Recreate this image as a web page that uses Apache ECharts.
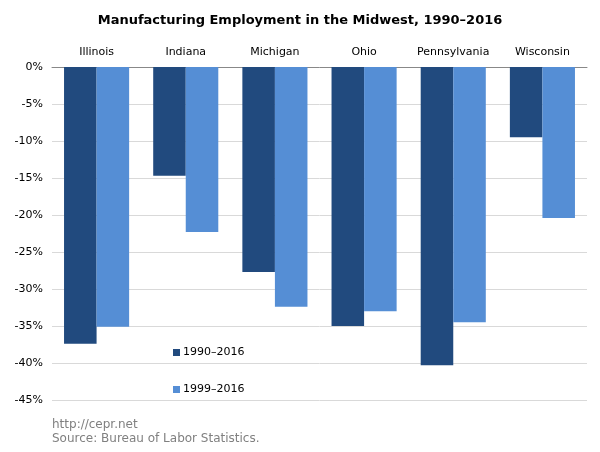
<!DOCTYPE html>
<html>
<head>
<meta charset="utf-8">
<script src="https://cdn.jsdelivr.net/npm/echarts@6/dist/echarts.min.js"></script>
<style>html,body{margin:0;padding:0;background:#fff}#c{width:600px;height:452px}</style>
</head>
<body>
<div id="c"></div>
<script>
const states = ['Illinois', 'Indiana', 'Michigan', 'Ohio', 'Pennsylvania', 'Wisconsin'];
const change1990 = [-37.4, -14.7, -27.7, -35.0, -40.3, -9.5];
const change1999 = [-35.1, -22.3, -32.4, -33.0, -34.5, -20.4];
const seriesNames = ['1990–2016', '1999–2016'];
const yTicks = { min: -45, max: 0, interval: 5 };

const font = 'Verdana, "DejaVu Sans", sans-serif';
const chart = echarts.init(document.getElementById('c'));
chart.setOption({
  animation: false,
  title: {
    text: 'Manufacturing Employment in the Midwest, 1990–2016',
    left: 295, top: 9, textAlign: 'center',
    textStyle: { fontFamily: font, fontSize: 13, fontWeight: 'bold', color: '#000' }
  },
  legend: {
    orient: 'vertical', left: 168, top: 342, itemGap: 26,
    itemWidth: 7, itemHeight: 7, icon: 'rect',
    textStyle: { fontFamily: font, fontSize: 11, color: '#000', padding: [0, 0, 0, -2] },
    data: seriesNames
  },
  grid: { left: 52, right: 13, top: 67, bottom: 52 },
  xAxis: {
    type: 'category', position: 'top', data: states,
    axisLine: { lineStyle: { color: '#888' } },
    axisTick: { show: false },
    axisLabel: { interval: 0, fontFamily: font, fontSize: 11, color: '#000', margin: 9 }
  },
  yAxis: {
    type: 'value', min: yTicks.min, max: yTicks.max, interval: yTicks.interval,
    axisLine: { show: false }, axisTick: { show: false },
    axisLabel: { formatter: '{value}%', fontFamily: font, fontSize: 11, color: '#000', margin: 9 },
    splitLine: { lineStyle: { color: '#d9d9d9' } }
  },
  series: [
    { name: seriesNames[0], type: 'bar', data: change1990, itemStyle: { color: '#214a7e' }, barGap: '0%', barCategoryGap: '27%' },
    { name: seriesNames[1], type: 'bar', data: change1999, itemStyle: { color: '#558ed5' } }
  ],
  graphic: [
    { type: 'text', left: 52, top: 419, style: { text: 'http://cepr.net', font: '12px ' + font, fill: '#808080' } },
    { type: 'text', left: 52, top: 433, style: { text: 'Source: Bureau of Labor Statistics.', font: '12px ' + font, fill: '#808080' } }
  ]
});
</script>
</body>
</html>
